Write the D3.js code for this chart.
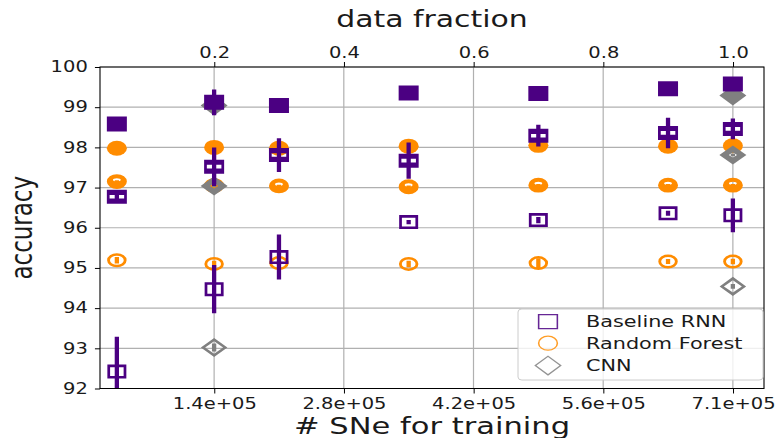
<!DOCTYPE html>
<html>
<head>
<meta charset="utf-8">
<script src="https://cdn.jsdelivr.net/npm/d3@7"></script>
<style>
  html, body { margin: 0; padding: 0; background: #fff; }
  svg { display: block; }
  text { font-family: "DejaVu Sans", sans-serif; fill: #1a1a1a; }
</style>
</head>
<body>
<svg id="chart"></svg>
<script>
// ---- data -------------------------------------------------------------
const fractions = [0.05, 0.2, 0.3, 0.5, 0.7, 0.9, 1.0];
const cnnFractions = [0.2, 1.0];

// Baseline RNN: three result sets (filled, medium, hollow markers) with error
const rnnFilled    = [98.58, 99.12, 99.04, 99.35, 99.34, 99.46, 99.58];
const rnnFilledErr = [0.10, 0.32, 0.04, 0.10, 0.04, 0.04, 0.04];
const rnnMedium    = [96.77, 97.52, 97.81, 97.67, 98.29, 98.36, 98.46];
const rnnMediumErr = [0.10, 0.48, 0.42, 0.45, 0.27, 0.38, 0.26];
const rnnHollow    = [92.42, 94.47, 95.27, 96.14, 96.19, 96.36, 96.31];
const rnnHollowErr = [0.87, 0.60, 0.56, 0.05, 0.08, 0.06, 0.42];

// Random Forest
const rfFilled    = [97.98, 98.00, 97.98, 98.03, 98.05, 98.03, 98.04];
const rfFilledErr = [0.03, 0.03, 0.03, 0.03, 0.03, 0.03, 0.03];
const rfMedium    = [97.15, 97.05, 97.04, 97.02, 97.06, 97.06, 97.06];
const rfMediumErr = [0.03, 0.03, 0.03, 0.03, 0.03, 0.03, 0.03];
const rfHollow    = [95.19, 95.10, 95.12, 95.10, 95.12, 95.16, 95.16];
const rfHollowErr = [0.08, 0.08, 0.05, 0.08, 0.12, 0.06, 0.07];

// CNN
const cnnFilled    = [99.04, 99.29];
const cnnFilledErr = [0.03, 0.03];
const cnnMedium    = [97.04, 97.81];
const cnnMediumErr = [0.03, 0.03];
const cnnHollow    = [93.02, 94.54];
const cnnHollowErr = [0.10, 0.06];

const yTicks = [92, 93, 94, 95, 96, 97, 98, 99, 100];
const fractionTicks = [0.2, 0.4, 0.6, 0.8, 1.0];
const fractionLabels = ["0.2", "0.4", "0.6", "0.8", "1.0"];
const snTickLabels = ["1.4e+05", "2.8e+05", "4.2e+05", "5.6e+05", "7.1e+05"];

const legendNames = ["Baseline RNN", "Random Forest", "CNN"];

// ---- figure setup -----------------------------------------------------
const W = 777, H = 438, SX = 1.3;          // figure is drawn narrow, then widened
const VW = W / SX;
const colors = { rnn: "#4b0082", rf: "#ff8c00", cnn: "#808080" };

const svg = d3.select("#chart")
  .attr("width", W).attr("height", H)
  .attr("viewBox", `0 0 ${VW} ${H}`)
  .attr("preserveAspectRatio", "none");

const plot = { left: 100 / SX, right: 764 / SX, top: 67, bottom: 388.5 };

const x = d3.scaleLinear().domain([0.024, 1.048]).range([plot.left, plot.right]);
const y = d3.scaleLinear().domain([92, 100]).range([plot.bottom, plot.top]);

svg.append("defs").append("clipPath").attr("id", "plotClip")
  .append("rect")
  .attr("x", plot.left).attr("y", plot.top)
  .attr("width", plot.right - plot.left).attr("height", plot.bottom - plot.top);

// ---- grid ------------------------------------------------------------
const grid = svg.append("g");
grid.selectAll("line.v").data(fractionTicks).join("line")
  .attr("x1", d => x(d)).attr("x2", d => x(d))
  .attr("y1", plot.top).attr("y2", plot.bottom)
  .attr("stroke", "#b0b0b0").attr("stroke-width", 1.2)
  .attr("vector-effect", "non-scaling-stroke");
grid.selectAll("line.h").data(yTicks).join("line")
  .attr("x1", plot.left).attr("x2", plot.right)
  .attr("y1", d => y(d)).attr("y2", d => y(d))
  .attr("stroke", "#b0b0b0").attr("stroke-width", 1.2)
  .attr("vector-effect", "non-scaling-stroke");

// ---- marker shapes (outer outline with an inner hole, even-odd) --------
function rectPath(a, b) { return `M${-a},${-b}H${a}V${b}H${-a}Z`; }
function ellPath(rx, ry, cy = 0) {
  return `M${-rx},${cy}A${rx},${ry} 0 1,0 ${rx},${cy}A${rx},${ry} 0 1,0 ${-rx},${cy}Z`;
}
function diaPath(a, b) { return `M0,${-b}L${a},0L0,${b}L${-a},0Z`; }

const shapes = {
  square: {
    filled: rectPath(7.7, 7.5),
    medium: rectPath(7.7, 7.0) + rectPath(5.6, 1.8),
    hollow: rectPath(7.3, 7.0) + rectPath(5.2, 4.4),
    legend: rectPath(7.8, 7.6) + rectPath(6.6, 6.4)
  },
  circle: {
    filled: ellPath(7.7, 7.5),
    medium: ellPath(7.7, 7.4) + ellPath(3.0, 1.6, -1.8),
    hollow: ellPath(7.5, 7.0) + ellPath(5.3, 4.5),
    legend: ellPath(7.8, 7.6) + ellPath(6.6, 6.4)
  },
  diamond: {
    filled: diaPath(10.4, 10.0),
    medium: diaPath(10.4, 9.6) + diaPath(3.2, 2.6),
    hollow: diaPath(10.2, 9.6) + diaPath(6.9, 6.2),
    legend: diaPath(10.6, 10.2) + diaPath(8.9, 8.5)
  }
};

// ---- series ----------------------------------------------------------
const layer = svg.append("g").attr("clip-path", "url(#plotClip)");

function drawSet(xs, ys, errs, color, shape, style) {
  const pts = xs.map((f, i) => ({ f, v: ys[i], e: errs[i] }));
  const g = layer.append("g");
  g.selectAll("line").data(pts).join("line")
    .attr("x1", d => x(d.f)).attr("x2", d => x(d.f))
    .attr("y1", d => y(d.v - d.e)).attr("y2", d => y(d.v + d.e))
    .attr("stroke", color).attr("stroke-width", 3.3);
  g.selectAll("path").data(pts).join("path")
    .attr("transform", d => `translate(${x(d.f)},${y(d.v)})`)
    .attr("d", shapes[shape][style])
    .attr("fill", color).attr("fill-rule", "evenodd");
}

// Random Forest first, then CNN, then Baseline RNN on top
drawSet(fractions, rfHollow, rfHollowErr, colors.rf, "circle", "hollow");
drawSet(fractions, rfMedium, rfMediumErr, colors.rf, "circle", "medium");
drawSet(fractions, rfFilled, rfFilledErr, colors.rf, "circle", "filled");

drawSet(cnnFractions, cnnHollow, cnnHollowErr, colors.cnn, "diamond", "hollow");
drawSet(cnnFractions, cnnMedium, cnnMediumErr, colors.cnn, "diamond", "medium");
drawSet(cnnFractions, cnnFilled, cnnFilledErr, colors.cnn, "diamond", "filled");

drawSet(fractions, rnnHollow, rnnHollowErr, colors.rnn, "square", "hollow");
drawSet(fractions, rnnMedium, rnnMediumErr, colors.rnn, "square", "medium");
drawSet(fractions, rnnFilled, rnnFilledErr, colors.rnn, "square", "filled");

// ---- axes ------------------------------------------------------------
function styleAxis(g) {
  g.select(".domain").remove();
  g.selectAll(".tick line").attr("stroke", "#000").attr("stroke-width", 1)
    .attr("vector-effect", "non-scaling-stroke");
  g.selectAll(".tick text").attr("font-size", 15).attr("fill", "#1a1a1a")
    .attr("font-family", "DejaVu Sans, sans-serif");
}

svg.append("g").attr("transform", `translate(${plot.left},0)`)
  .call(d3.axisLeft(y).tickValues(yTicks).tickFormat(d3.format("d"))
    .tickSize(3.9).tickPadding(5.5))
  .call(styleAxis);

svg.append("g").attr("transform", `translate(0,${plot.bottom})`)
  .call(d3.axisBottom(x).tickValues(fractionTicks)
    .tickFormat((d, i) => snTickLabels[i]).tickSize(5).tickPadding(4.5))
  .call(styleAxis);

svg.append("g").attr("transform", `translate(0,${plot.top})`)
  .call(d3.axisTop(x).tickValues(fractionTicks)
    .tickFormat((d, i) => fractionLabels[i]).tickSize(5).tickPadding(4.5))
  .call(styleAxis);

// frame
svg.append("rect")
  .attr("x", plot.left).attr("y", plot.top)
  .attr("width", plot.right - plot.left).attr("height", plot.bottom - plot.top)
  .attr("fill", "none").attr("stroke", "#000").attr("stroke-width", 1.1)
  .attr("vector-effect", "non-scaling-stroke");

// axis titles
svg.append("text")
  .attr("x", (plot.left + plot.right) / 2).attr("y", 27)
  .attr("text-anchor", "middle").attr("font-size", 23)
  .text("data fraction");

svg.append("text")
  .attr("x", (plot.left + plot.right) / 2).attr("y", 434)
  .attr("text-anchor", "middle").attr("font-size", 23.5)
  .text("# SNe for training");

svg.append("text")
  .attr("transform", `translate(24.5,${(plot.top + plot.bottom) / 2}) rotate(-90)`)
  .attr("text-anchor", "middle").attr("font-size", 23)
  .text("accuracy");

// ---- legend ----------------------------------------------------------
const legend = svg.append("g");
legend.append("rect")
  .attr("x", 518 / SX).attr("y", 309)
  .attr("width", (763 - 518) / SX).attr("height", 71)
  .attr("rx", 3)
  .attr("fill", "#fff").attr("fill-opacity", 0.8)
  .attr("stroke", "#cccccc").attr("stroke-width", 1)
  .attr("vector-effect", "non-scaling-stroke");

const legendItems = [
  { name: legendNames[0], color: colors.rnn, shape: "square" },
  { name: legendNames[1], color: colors.rf, shape: "circle" },
  { name: legendNames[2], color: colors.cnn, shape: "diamond" }
];
const rowY = [321.7, 343.2, 365.6];
legendItems.forEach((it, i) => {
  legend.append("path")
    .attr("transform", `translate(${548 / SX},${rowY[i]})`)
    .attr("d", shapes[it.shape].legend)
    .attr("fill", it.color).attr("fill-rule", "evenodd").attr("opacity", 0.85);
  legend.append("text")
    .attr("x", 586 / SX).attr("y", rowY[i] + 5.8)
    .attr("font-size", 16)
    .text(it.name);
});
</script>
</body>
</html>
